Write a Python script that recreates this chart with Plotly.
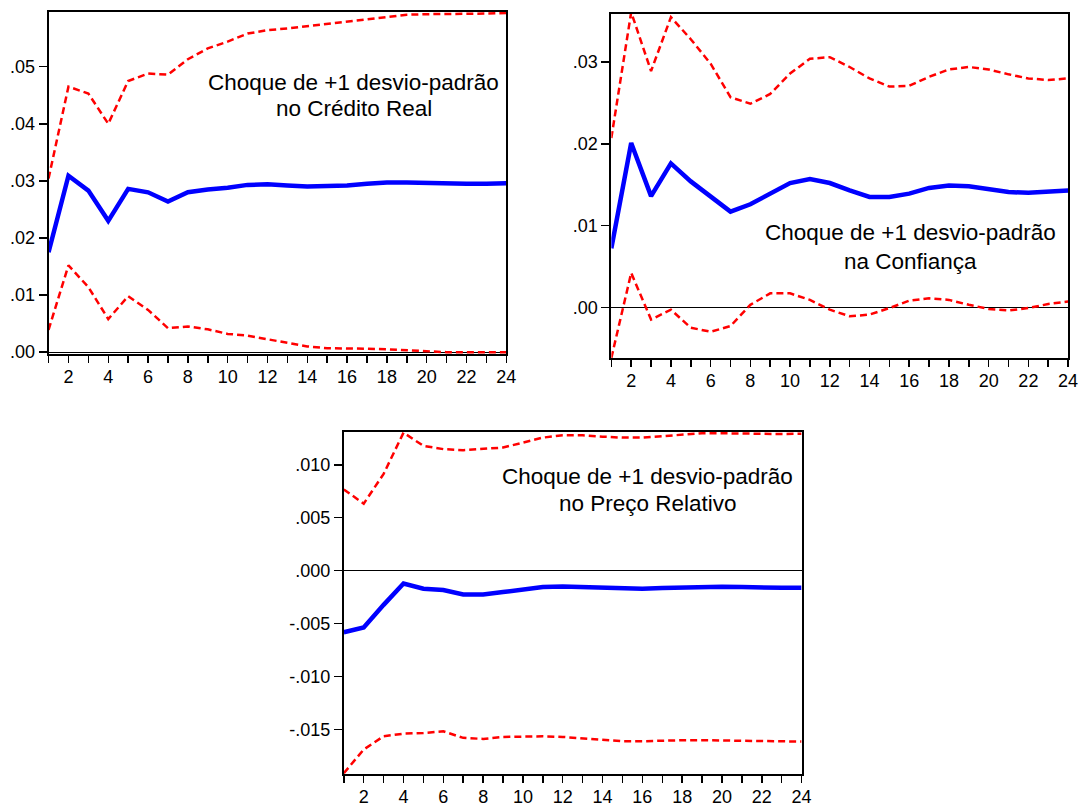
import plotly.graph_objects as go

periods = list(range(1, 25))

# Panel 1: Choque no Crédito Real
p1_resp = [0.0175, 0.0309, 0.0283, 0.0230, 0.0286, 0.0280, 0.0264, 0.0280, 0.0285, 0.0288,
           0.0293, 0.0294, 0.0292, 0.0290, 0.0291, 0.0292, 0.0295, 0.0297, 0.0297, 0.0296,
           0.0295, 0.0295, 0.0295, 0.0296]
p1_upper = [0.0304, 0.0465, 0.0453, 0.0400, 0.0475, 0.0488, 0.0486, 0.0513, 0.0532, 0.0544,
            0.0558, 0.0564, 0.0567, 0.0571, 0.0576, 0.0580, 0.0584, 0.0588, 0.0591, 0.0592,
            0.0592, 0.0593, 0.0593, 0.0594]
p1_lower = [0.0039, 0.0152, 0.0114, 0.0058, 0.0098, 0.0074, 0.0042, 0.0045, 0.0040, 0.0032,
            0.0029, 0.0023, 0.0016, 0.0010, 0.0007, 0.0007, 0.0006, 0.0005, 0.0003, 0.0001,
            0.0000, 0.0000, 0.0000, 0.0000]

# Panel 2: Choque na Confiança
p2_resp = [0.0072, 0.0201, 0.0136, 0.0176, 0.0154, 0.0135, 0.0117, 0.0126, 0.0139, 0.0152,
           0.0157, 0.0152, 0.0143, 0.0135, 0.0135, 0.0139, 0.0146, 0.0149, 0.0148, 0.0145,
           0.0141, 0.0140, 0.0141, 0.0143]
p2_upper = [0.0207, 0.0361, 0.0289, 0.0355, 0.0328, 0.0298, 0.0257, 0.0249, 0.0261, 0.0286,
            0.0304, 0.0306, 0.0294, 0.0280, 0.0270, 0.0271, 0.0282, 0.0291, 0.0294, 0.0291,
            0.0285, 0.0280, 0.0278, 0.0280]
p2_lower = [-0.0062, 0.0042, -0.0015, -0.0003, -0.0025, -0.0030, -0.0023, 0.0003, 0.0017, 0.0017,
            0.0009, -0.0003, -0.0011, -0.0009, -0.0001, 0.0008, 0.0011, 0.0009, 0.0003, -0.0002,
            -0.0004, -0.0001, 0.0004, 0.0007]

# Panel 3: Choque no Preço Relativo
p3_resp = [-0.00583, -0.00537, -0.00324, -0.00122, -0.00172, -0.00184, -0.00225, -0.00225,
           -0.00203, -0.00178, -0.00156, -0.00150, -0.00156, -0.00165, -0.00175, -0.00172,
           -0.00165, -0.00159, -0.00153, -0.00153, -0.00156, -0.00162, -0.00162, -0.00162]
p3_upper = [0.00767, 0.00633, 0.00914, 0.01304, 0.01179, 0.01148, 0.01138, 0.01148, 0.01163,
            0.01210, 0.01257, 0.01279, 0.01279, 0.01266, 0.01257, 0.01257, 0.01273, 0.01288,
            0.01298, 0.01298, 0.01294, 0.01291, 0.01291, 0.01294]
p3_lower = [-0.01915, -0.01691, -0.01566, -0.01541, -0.01535, -0.01519, -0.01581, -0.01591,
            -0.01572, -0.01566, -0.01566, -0.01572, -0.01588, -0.01603, -0.01613, -0.01613,
            -0.01606, -0.01603, -0.01603, -0.01606, -0.01613, -0.01616, -0.01616, -0.01616]

x_tickvals = list(range(2, 25, 2))
x_ticktext = [str(v) for v in x_tickvals]

p1_yticks = [0.0, 0.01, 0.02, 0.03, 0.04, 0.05]
p1_ylabels = [".00", ".01", ".02", ".03", ".04", ".05"]
p2_yticks = [0.0, 0.01, 0.02, 0.03]
p2_ylabels = [".00", ".01", ".02", ".03"]
p3_yticks = [-0.015, -0.010, -0.005, 0.0, 0.005, 0.010]
p3_ylabels = ["-.015", "-.010", "-.005", ".000", ".005", ".010"]

panel_titles = [
    ("Choque de +1 desvio-padrão", "no Crédito Real"),
    ("Choque de +1 desvio-padrão", "na Confiança"),
    ("Choque de +1 desvio-padrão", "no Preço Relativo"),
]

W, H = 1089, 809
FONT = "Arial, Liberation Sans, sans-serif"
TICK_FS = 18
ANN_FS = 22.5

fig = go.Figure()

panels = [
    dict(resp=p1_resp, up=p1_upper, lo=p1_lower, yt=p1_yticks, yl=p1_ylabels,
         yr=[-0.0004, 0.0596], px=(49, 511), py=(12, 358), txt=(357, 83, 110)),
    dict(resp=p2_resp, up=p2_upper, lo=p2_lower, yt=p2_yticks, yl=p2_ylabels,
         yr=[-0.00626, 0.0359], px=(617, 1078), py=(14, 362), txt=(919, 235, 264)),
    dict(resp=p3_resp, up=p3_upper, lo=p3_lower, yt=p3_yticks, yl=p3_ylabels,
         yr=[-0.01925, 0.01313], px=(347, 809), py=(436, 782), txt=(654, 481, 509)),
]

layout = dict(
    width=W, height=H, margin=dict(l=0, r=0, t=0, b=0),
    paper_bgcolor="white", plot_bgcolor="white", showlegend=False,
    font=dict(family=FONT, size=TICK_FS, color="black"),
)
annotations = []

for i, p in enumerate(panels):
    n = i + 1
    xa = "x" if n == 1 else f"x{n}"
    ya = "y" if n == 1 else f"y{n}"
    for series, color, width, dash in [(p["up"], "#FF0000", 2.5, "7px,4px"),
                                       (p["lo"], "#FF0000", 2.5, "7px,4px"),
                                       (p["resp"], "#0000FF", 4.5, "solid")]:
        fig.add_trace(go.Scatter(x=periods, y=series, mode="lines", xaxis=xa, yaxis=ya,
                                 line=dict(color=color, width=width, dash=dash),
                                 cliponaxis=True, hoverinfo="skip"))
    xd = [p["px"][0] / W, p["px"][1] / W]
    yd = [1 - p["py"][1] / H, 1 - p["py"][0] / H]
    xkey = "xaxis" if n == 1 else f"xaxis{n}"
    ykey = "yaxis" if n == 1 else f"yaxis{n}"
    layout[xkey] = dict(
        domain=xd, range=[1, 24], anchor=ya,
        tickmode="array", tickvals=x_tickvals, ticktext=x_ticktext,
        ticks="outside", ticklen=7, tickwidth=1.5, tickcolor="black",
        ticklabelstandoff=-2,
        minor=dict(tickmode="linear", tick0=1, dtick=1, ticks="outside", ticklen=7,
                   tickwidth=1.5, tickcolor="black", showgrid=False),
        showline=True, linecolor="black", linewidth=2, mirror=True,
        showgrid=False, zeroline=False, fixedrange=True,
        tickfont=dict(size=TICK_FS, family=FONT, color="black"),
    )
    layout[ykey] = dict(
        domain=yd, range=p["yr"], anchor=xa,
        tickmode="array", tickvals=p["yt"], ticktext=p["yl"],
        ticks="outside", ticklen=8, tickwidth=1.5, tickcolor="black",
        showline=True, linecolor="black", linewidth=2, mirror=True,
        showgrid=False, zeroline=True, zerolinecolor="black", zerolinewidth=1,
        fixedrange=True,
        tickfont=dict(size=TICK_FS, family=FONT, color="black"),
    )
    cx, y1, y2 = p["txt"]
    for text, yy in zip(panel_titles[i], (y1, y2)):
        annotations.append(dict(
            text=text, xref="paper", yref="paper", x=cx / W, y=1 - yy / H,
            xanchor="center", yanchor="middle", showarrow=False,
            font=dict(size=ANN_FS, family=FONT, color="black"),
        ))

layout["annotations"] = annotations
fig.update_layout(**layout)
fig.write_html(
    "out.html",
    config={"displayModeBar": False, "staticPlot": True},
    post_script="document.body.style.margin='0';document.body.style.overflow='hidden';",
)
